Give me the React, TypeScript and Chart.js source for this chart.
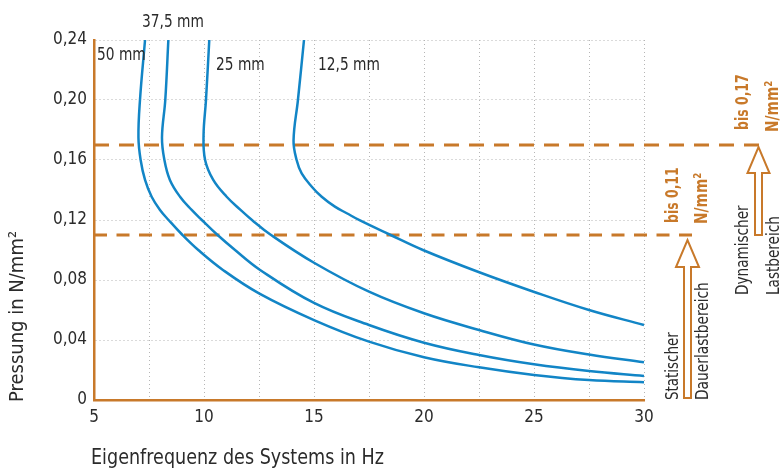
import React, { useEffect, useRef } from 'react';
import { Chart, registerables } from 'chart.js';

Chart.register(...registerables);

const FONT = '"Liberation Sans Narrow", "DejaVu Sans Condensed", "Liberation Sans", sans-serif';
const ORANGE = '#c8792a';
const BLUE = '#1285c6';
const TEXT = '#2b2b2b';

// Curve labels (plate thickness)
const seriesNames = ['50 mm', '37,5 mm', '25 mm', '12,5 mm'];

// 50 mm
const freq50 = [7.32, 7.09, 7.02, 7.12, 7.32, 7.62, 8.0, 8.39, 8.99, 9.74, 10.86, 12.5, 15, 17.5, 20, 22.5, 25, 27.5, 30];
const press50 = [0.24, 0.2, 0.175, 0.16, 0.1467, 0.1355, 0.1267, 0.12, 0.1105, 0.1, 0.0867, 0.0711, 0.0533, 0.0389, 0.0285, 0.0218, 0.0167, 0.0133, 0.0118];
// 37,5 mm
const freq375 = [8.38, 8.24, 8.09, 8.2, 8.45, 8.91, 9.44, 9.9, 10.58, 11.41, 12.55, 15, 17.5, 20, 22.5, 25, 27.5, 30];
const press375 = [0.24, 0.2, 0.175, 0.16, 0.1467, 0.1355, 0.1267, 0.12, 0.1105, 0.1, 0.0867, 0.0647, 0.05, 0.0382, 0.03, 0.0238, 0.0193, 0.016];
// 25 mm
const freq25 = [10.24, 10.09, 9.98, 10.05, 10.42, 11.03, 11.66, 12.18, 13.0, 15, 17.5, 20, 22.5, 25, 27.5, 30];
const press25 = [0.24, 0.2, 0.1767, 0.16, 0.1467, 0.1355, 0.1267, 0.12, 0.1105, 0.0915, 0.0722, 0.0578, 0.0467, 0.037, 0.0303, 0.0251];
// 12,5 mm
const freq125 = [14.545, 14.27, 14.07, 14.21, 14.44, 14.9, 15.35, 15.95, 16.49, 17.09, 18.41, 19.95, 22.45, 24.98, 27.5, 30];
const press125 = [0.24, 0.2, 0.173, 0.16, 0.1511, 0.1422, 0.1355, 0.1289, 0.1245, 0.1197, 0.1105, 0.1, 0.0855, 0.0722, 0.06, 0.05];

const xMin = 5;
const xMax = 30;
const xGridStep = 2.5;
const xLabelStep = 5;
const yMin = 0;
const yMax = 0.24;
const yStep = 0.04;

const staticLimit = 0.11;
const dynamicLimit = 0.17;

const xTitle = 'Eigenfrequenz des Systems in Hz';
const yTitle = 'Pressung in N/mm²';

const pts = (xs: number[], ys: number[]) => xs.map((x, i) => ({ x, y: ys[i] }));

const fmtY = (v: number) => (Math.abs(v) < 1e-9 ? '0' : v.toFixed(2).replace('.', ','));

// text drawn condensed (k = squeeze along the reading direction)
function drawText(
  ctx: CanvasRenderingContext2D,
  text: string,
  x: number,
  y: number,
  font: string,
  color: string,
  k: number,
  rotated: boolean,
) {
  ctx.save();
  ctx.translate(x, y);
  if (rotated) ctx.rotate(-Math.PI / 2);
  ctx.scale(k, 1);
  ctx.font = font;
  ctx.fillStyle = color;
  ctx.textAlign = 'left';
  ctx.textBaseline = 'middle';
  ctx.fillText(text, 0, 0);
  ctx.restore();
}

function hollowArrow(ctx: CanvasRenderingContext2D, cx: number, yBottom: number, yTip: number, shaftW: number, headW: number, headH: number) {
  const base = yTip + headH;
  ctx.save();
  ctx.strokeStyle = ORANGE;
  ctx.lineWidth = 2;
  ctx.lineJoin = 'miter';
  ctx.beginPath();
  ctx.moveTo(cx - shaftW / 2, yBottom);
  ctx.lineTo(cx - shaftW / 2, base);
  ctx.lineTo(cx - headW / 2, base);
  ctx.lineTo(cx, yTip);
  ctx.lineTo(cx + headW / 2, base);
  ctx.lineTo(cx + shaftW / 2, base);
  ctx.lineTo(cx + shaftW / 2, yBottom);
  ctx.closePath();
  ctx.stroke();
  ctx.restore();
}

const limitLinesPlugin = {
  id: 'limitLines',
  beforeDatasetsDraw(chart: any) {
    const { ctx, chartArea, scales } = chart;
    const y = scales.y;
    const drawDash = (val: number, xEnd: number, dash: number[]) => {
      const py = y.getPixelForValue(val);
      ctx.save();
      ctx.strokeStyle = ORANGE;
      ctx.lineWidth = 3;
      ctx.setLineDash(dash);
      ctx.beginPath();
      ctx.moveTo(chartArea.left, py);
      ctx.lineTo(xEnd, py);
      ctx.stroke();
      ctx.restore();
    };
    drawDash(dynamicLimit, chartArea.right + 122, [15, 10]);
    drawDash(staticLimit, chartArea.right + 51, [13, 9.5]);
  },
};

const annotationsPlugin = {
  id: 'annotations',
  afterDraw(chart: any) {
    const { ctx, chartArea, scales } = chart;
    const y = scales.y;
    const R = chartArea.right;
    const B = chartArea.bottom;
    const yS = y.getPixelForValue(staticLimit);
    const yD = y.getPixelForValue(dynamicLimit);
    const reg = `18px ${FONT}`;
    const bold = `bold 18px ${FONT}`;

    // axis titles
    drawText(ctx, xTitle, chartArea.left - 3, 459, `21px ${FONT}`, TEXT, 0.93, false);
    drawText(ctx, yTitle, 18, B + 2, `20px ${FONT}`, TEXT, 1.0, true);

    // curve labels
    drawText(ctx, seriesNames[0], 97, 55, reg, TEXT, 0.85, false);
    drawText(ctx, seriesNames[1], 142, 22, reg, TEXT, 0.85, false);
    drawText(ctx, seriesNames[2], 216, 65, reg, TEXT, 0.85, false);
    drawText(ctx, seriesNames[3], 318, 65, reg, TEXT, 0.85, false);

    // arrows
    hollowArrow(ctx, R + 43.5, B - 2, yS + 5, 7, 23, 27);
    hollowArrow(ctx, R + 114.5, yS, yD + 2, 7, 22, 26);

    // right side texts
    drawText(ctx, 'bis 0,11', R + 29, yS - 12, bold, ORANGE, 0.77, true);
    drawText(ctx, 'N/mm²', R + 58, yS - 11, bold, ORANGE, 0.85, true);
    drawText(ctx, 'bis 0,17', R + 99, yD - 15, bold, ORANGE, 0.77, true);
    drawText(ctx, 'N/mm²', R + 129, yD - 13, bold, ORANGE, 0.85, true);
    drawText(ctx, 'Statischer', R + 29, B, reg, TEXT, 0.83, true);
    drawText(ctx, 'Dauerlastbereich', R + 59, B, reg, TEXT, 0.85, true);
    drawText(ctx, 'Dynamischer', R + 99, yS + 60, reg, TEXT, 0.84, true);
    drawText(ctx, 'Lastbereich', R + 130, yS + 60, reg, TEXT, 0.84, true);
  },
};

export default function App() {
  const ref = useRef<HTMLCanvasElement | null>(null);

  useEffect(() => {
    document.body.style.margin = '0';
    const canvas = ref.current;
    if (!canvas) return;
    const mk = (xs: number[], ys: number[], label: string) => ({
      label,
      data: pts(xs, ys),
      borderColor: BLUE,
      borderWidth: 2.5,
      pointRadius: 0,
      fill: false,
      tension: 0.4,
      clip: 2,
    });
    const chart = new Chart(canvas, {
      type: 'line',
      data: {
        datasets: [
          mk(freq50, press50, seriesNames[0]),
          mk(freq375, press375, seriesNames[1]),
          mk(freq25, press25, seriesNames[2]),
          mk(freq125, press125, seriesNames[3]),
        ],
      },
      options: {
        animation: false,
        responsive: false,
        devicePixelRatio: 1,
        layout: { padding: { left: 0, top: 40, right: 140, bottom: 0 } },
        plugins: { legend: { display: false }, tooltip: { enabled: false } },
        scales: {
          x: {
            type: 'linear',
            min: xMin,
            max: xMax,
            afterFit: (s: any) => { s.height = 70; },
            ticks: {
              stepSize: xGridStep,
              autoSkip: false,
              maxRotation: 0,
              padding: 7,
              color: TEXT,
              font: { family: FONT, size: 17 },
              callback: (v: any) => (Number(v) % xLabelStep === 0 ? String(v) : ''),
            },
            grid: { color: '#b5b5b5', lineWidth: 1, drawTicks: false },
            border: { display: true, color: ORANGE, width: 2.5, dash: [1, 3] },
          },
          y: {
            type: 'linear',
            min: yMin,
            max: yMax,
            afterFit: (s: any) => { s.width = 94; },
            ticks: {
              stepSize: yStep,
              padding: 7,
              color: TEXT,
              font: { family: FONT, size: 17 },
              callback: (v: any) => fmtY(Number(v)),
            },
            grid: { color: '#b5b5b5', lineWidth: 1, drawTicks: false },
            border: { display: true, color: ORANGE, width: 2.5, dash: [1, 3] },
          },
        },
      },
      plugins: [limitLinesPlugin, annotationsPlugin],
    } as any);
    return () => chart.destroy();
  }, []);

  return (
    <div style={{ width: 784, height: 470, background: '#fff' }}>
      <canvas ref={ref} width={784} height={470} style={{ display: 'block' }} />
    </div>
  );
}
